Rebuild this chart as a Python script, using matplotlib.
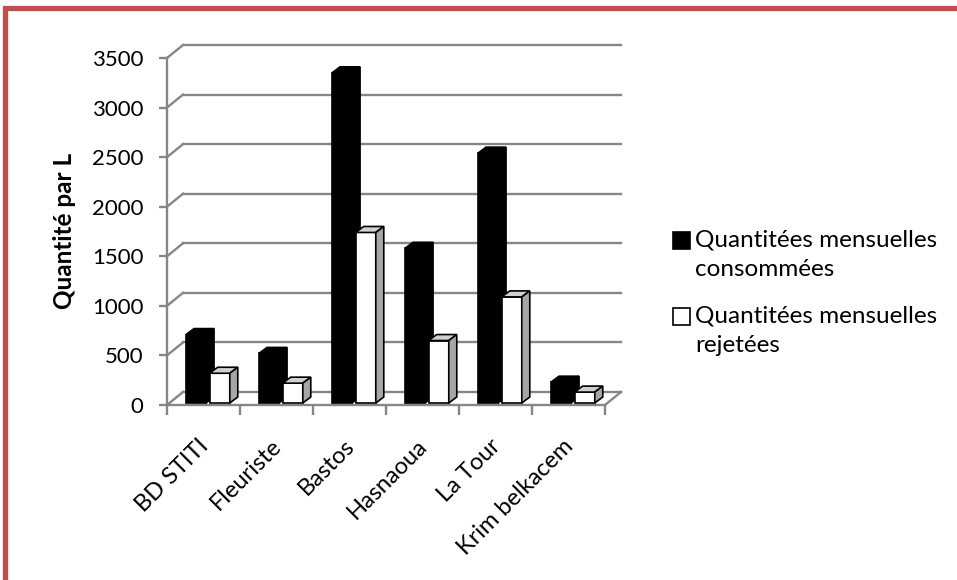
import matplotlib.pyplot as plt
from matplotlib.patches import Polygon, Rectangle
from matplotlib.lines import Line2D

sites = ['BD STITI', 'Fleuriste', 'Bastos', 'Hasnaoua', 'La Tour', 'Krim belkacem']
consommees = [690, 500, 3330, 1560, 2520, 210]
rejetees = [300, 200, 1720, 630, 1070, 110]
series_labels = ['Quantitées mensuelles\nconsommées', 'Quantitées mensuelles\nrejetées']
yticks = [0, 500, 1000, 1500, 2000, 2500, 3000, 3500]

plt.rcParams['font.family'] = ['Lato', 'DejaVu Sans']

W, H = 957, 580
GRID = '#868686'

fig = plt.figure(figsize=(W / 100, H / 100), dpi=100)
# plot area in pixels: front axis / floor front edge
left, right, top, bottom = 167, 605, 58, 405
ax = fig.add_axes([left / W, 1 - bottom / H, (right - left) / W, (bottom - top) / H])
ax.set_xlim(0, len(sites))
ax.set_ylim(0, 3500)

# data units per pixel, used for the fake depth
px_x = len(sites) / (right - left)
px_y = 3500 / (bottom - top)
wall_dx, wall_dy = 16 * px_x, 13 * px_y
bar_dx, bar_dy = 8 * px_x, 6 * px_y
base = 2 * px_y

for s in ['top', 'right']:
    ax.spines[s].set_visible(False)
for s in ['left', 'bottom']:
    ax.spines[s].set_color(GRID)
    ax.spines[s].set_linewidth(1.7)

# back wall gridlines + side wall connectors
for v in yticks:
    ax.plot([0, wall_dx], [v, v + wall_dy], color=GRID, lw=1.7, clip_on=False, zorder=1)
    ax.plot([wall_dx, len(sites) + wall_dx], [v + wall_dy, v + wall_dy],
            color=GRID, lw=1.7, clip_on=False, zorder=1)
ax.plot([len(sites), len(sites) + wall_dx], [0, wall_dy], color=GRID, lw=1.7,
        clip_on=False, zorder=1)

ax.set_yticks(yticks)
ax.set_yticklabels([str(v) for v in yticks], fontsize=16)
ax.tick_params(axis='y', length=6, width=1.7, color=GRID, pad=11)
ax.set_xticks(range(len(sites) + 1))
ax.set_xticklabels([])
ax.tick_params(axis='x', length=7, width=1.7, color=GRID, direction='out')

for i, name in enumerate(sites):
    ax.text(i + 0.52, -38 * px_y, name, rotation=45, rotation_mode='anchor',
            ha='right', va='center', fontsize=17, clip_on=False)


def draw_bar(x0, v, w, face, top_c, side_c, z):
    ax.bar(x0, v, width=w, bottom=base, align='edge', color=face,
           edgecolor='black', linewidth=1.2, zorder=z)
    y1 = base + v
    ax.add_patch(Polygon([(x0, y1), (x0 + bar_dx, y1 + bar_dy),
                          (x0 + w + bar_dx, y1 + bar_dy), (x0 + w, y1)],
                         closed=True, facecolor=top_c, edgecolor='black',
                         linewidth=1.2, zorder=z, clip_on=False))
    ax.add_patch(Polygon([(x0 + w, base), (x0 + w + bar_dx, base + bar_dy),
                          (x0 + w + bar_dx, y1 + bar_dy), (x0 + w, y1)],
                         closed=True, facecolor=side_c, edgecolor='black',
                         linewidth=1.2, zorder=z, clip_on=False))


bw = 0.275
for i in range(len(sites)):
    draw_bar(i + 0.26, consommees[i], bw, 'black', 'black', 'black', 3)
    draw_bar(i + 0.585, rejetees[i], bw, 'white', '#d0d0d0', '#a6a6a6', 4)

fig.text(65 / W, 1 - 231 / H, 'Quantité par L', rotation=90, ha='center',
         va='center', fontsize=17.5, fontweight='bold')

# legend
for k, (lab, fc) in enumerate(zip(series_labels, ['black', 'white'])):
    y_sq = 232 + k * 76
    fig.add_artist(Rectangle((673 / W, 1 - (y_sq + 17) / H), 17 / W, 17 / H,
                             transform=fig.transFigure, facecolor=fc,
                             edgecolor='black', linewidth=1.2))
    fig.text(695 / W, 1 - (y_sq - 3) / H, lab, ha='left', va='top',
             fontsize=17.5, linespacing=1.5)

# outer frame (left and top edges)
red = '#c0504d'
fig.add_artist(Line2D([5 / W, 5 / W, 1.01], [-0.01, 1 - 7.5 / H, 1 - 7.5 / H],
                      transform=fig.transFigure, color=red, lw=3.8,
                      solid_joinstyle='miter'))

fig.savefig('out.png', dpi=100)
